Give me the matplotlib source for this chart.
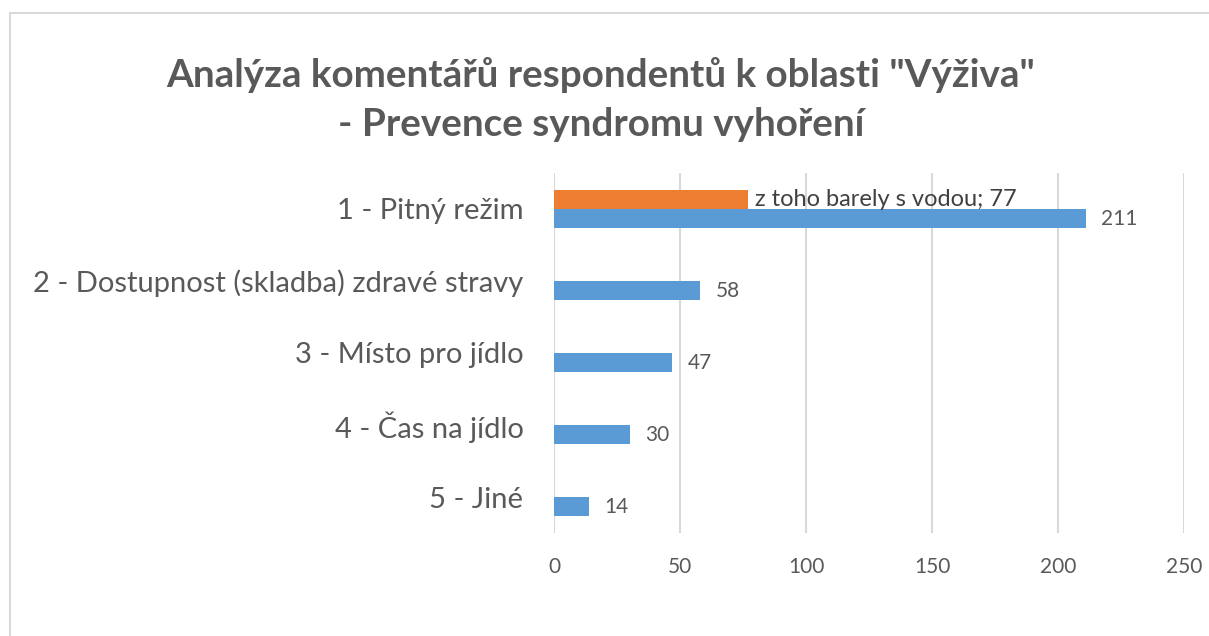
import numpy as np
import matplotlib.pyplot as plt
from matplotlib.patches import Rectangle

# data
kategorie = ['1 - Pitný režim', '2 - Dostupnost (skladba) zdravé stravy',
             '3 - Místo pro jídlo', '4 - Čas na jídlo', '5 - Jiné']
pocty = [211, 58, 47, 30, 14]
barely = [77]   # jen u prvni kategorie
barely_popis = 'z toho barely s vodou'
xticks = [0, 50, 100, 150, 200, 250]

plt.rcParams['font.family'] = ['Lato', 'DejaVu Sans']
seda = '#595959'

fig = plt.figure(figsize=(12.09, 6.36), dpi=100)
ax = fig.add_axes([554/1209, 1-533/636, 630/1209, 360/636])

y = np.arange(len(kategorie))
h = 0.265
modra = ax.barh(y + h/2, pocty, height=h, color='#5B9BD5', zorder=3)
oranz = ax.barh(y[:1] - h/2, barely, height=h, color='#ED7D31', zorder=3)

for b, v in zip(modra, pocty):
    ax.annotate(str(v), (b.get_width(), b.get_y() + b.get_height()/2),
                xytext=(11, 0), textcoords='offset points',
                va='center', ha='left', fontsize=15, color=seda)
for b, v in zip(oranz, barely):
    ax.annotate(f'{barely_popis}; {v}', (b.get_width(), b.get_y() + b.get_height()/2),
                xytext=(5, 0), textcoords='offset points',
                va='center', ha='left', fontsize=17, color='#404040')

ax.set_xlim(0, 250)
ax.set_ylim(len(kategorie) - 0.5, -0.5)
ax.set_xticks(xticks)
ax.set_yticks(y)
ax.set_yticklabels(kategorie, fontsize=21, color=seda)
ax.tick_params(axis='x', labelsize=15, labelcolor=seda, length=0, pad=17)
ax.tick_params(axis='y', length=0, pad=22)
for s in ax.spines.values():
    s.set_visible(False)
ax.grid(axis='x', color='#D9D9D9', linewidth=1.5, zorder=0)

fig.text(0.497, 1-75/636, 'Analýza komentářů respondentů k oblasti "Výživa"',
         ha='center', va='center', fontsize=27.8, fontweight='bold', color=seda)
fig.text(0.497, 1-124/636, '- Prevence syndromu vyhoření',
         ha='center', va='center', fontsize=27.8, fontweight='bold', color=seda)

# ramecek grafu
fig.patches.append(Rectangle((10/1209, -0.1), 1.2, 1.1 - 13/636,
                             transform=fig.transFigure, fill=False,
                             edgecolor='#D9D9D9', linewidth=1.5))

fig.savefig('out.png', dpi=100)
